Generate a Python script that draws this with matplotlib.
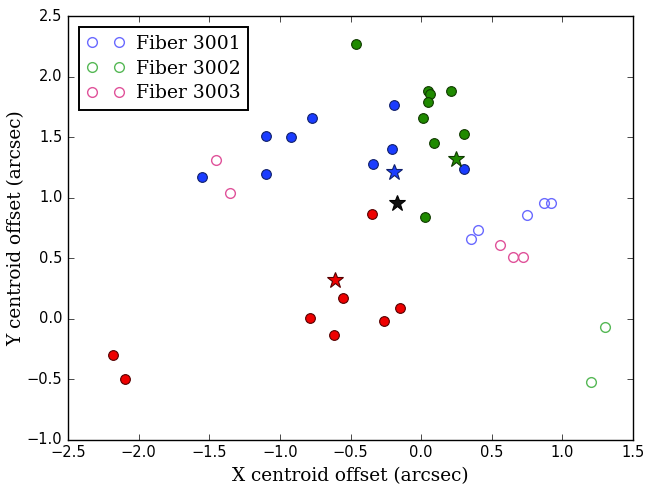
import numpy as np
import matplotlib
matplotlib.use("Agg")
import matplotlib.pyplot as plt

plt.style.use("classic")

# fiber 3001 (blue)
f1_x = [-1.55, -1.10, -1.10, -0.92, -0.77, -0.19, -0.21, -0.34, 0.30]
f1_y = [1.17, 1.51, 1.20, 1.50, 1.66, 1.77, 1.40, 1.28, 1.24]
f1_open_x = [0.35, 0.40, 0.75, 0.87, 0.92]
f1_open_y = [0.66, 0.73, 0.86, 0.96, 0.96]
f1_star = (-0.19, 1.21)

# fiber 3002 (green)
f2_x = [-0.46, 0.05, 0.06, 0.05, 0.01, 0.21, 0.30, 0.09, 0.03]
f2_y = [2.27, 1.88, 1.86, 1.79, 1.66, 1.88, 1.53, 1.45, 0.84]
f2_open_x = [1.30, 1.20]
f2_open_y = [-0.07, -0.52]
f2_star = (0.25, 1.32)

# fiber 3003 (red / pink)
f3_x = [-0.35, -2.18, -2.10, -0.79, -0.62, -0.55, -0.26, -0.15]
f3_y = [0.87, -0.30, -0.50, 0.01, -0.13, 0.17, -0.02, 0.09]
f3_open_x = [-1.45, -1.35, 0.56, 0.65, 0.72]
f3_open_y = [1.31, 1.04, 0.61, 0.51, 0.51]
f3_star = (-0.61, 0.32)

black_star = (-0.17, 0.96)

fig = plt.figure(figsize=(6.54, 4.91), dpi=100, facecolor="white")
ax = fig.add_axes([0.104, 0.104, 0.864, 0.863])

ms = 7
ax.plot(f1_open_x, f1_open_y, "o", mfc="none", mec="#6a6aff", ms=ms, mew=1.0, label="Fiber 3001")
ax.plot(f2_open_x, f2_open_y, "o", mfc="none", mec="#55b855", ms=ms, mew=1.0, label="Fiber 3002")
ax.plot(f3_open_x, f3_open_y, "o", mfc="none", mec="#e0529a", ms=ms, mew=1.0, label="Fiber 3003")

ax.plot(f1_x, f1_y, "o", color="#1a3cff", mec="#10206a", ms=ms, mew=0.8)
ax.plot(f2_x, f2_y, "o", color="#1f8a00", mec="#103a00", ms=ms, mew=0.8)
ax.plot(f3_x, f3_y, "o", color="#ee0000", mec="#550000", ms=ms, mew=0.8)

ax.plot(*f1_star, "*", color="#1a3cff", mec="#10206a", ms=12, mew=0.8)
ax.plot(*f2_star, "*", color="#1f8a00", mec="#103a00", ms=12, mew=0.8)
ax.plot(*f3_star, "*", color="#ee0000", mec="#550000", ms=12, mew=0.8)
ax.plot(*black_star, "*", color="#111111", mec="black", ms=12, mew=0.8)

ax.set_xlim(-2.5, 1.5)
ax.set_ylim(-1.0, 2.5)
ax.set_xticks(np.arange(-2.5, 1.51, 0.5))
ax.set_yticks(np.arange(-1.0, 2.51, 0.5))
ax.tick_params(labelsize=10.5)

ax.set_xlabel("X centroid offset (arcsec)", family="DejaVu Serif", fontsize=13.3)
ax.set_ylabel("Y centroid offset (arcsec)", family="DejaVu Serif", fontsize=13.3, labelpad=1)

leg = ax.legend(loc="upper left", numpoints=2, prop={"family": "DejaVu Serif", "size": 13.5},
                handletextpad=0.6, handlelength=2.0, borderaxespad=0.6,
                labelspacing=0.35, borderpad=0.4)
leg.get_frame().set_linewidth(1.4)

plt.savefig("out.png", dpi=100, facecolor="white")
